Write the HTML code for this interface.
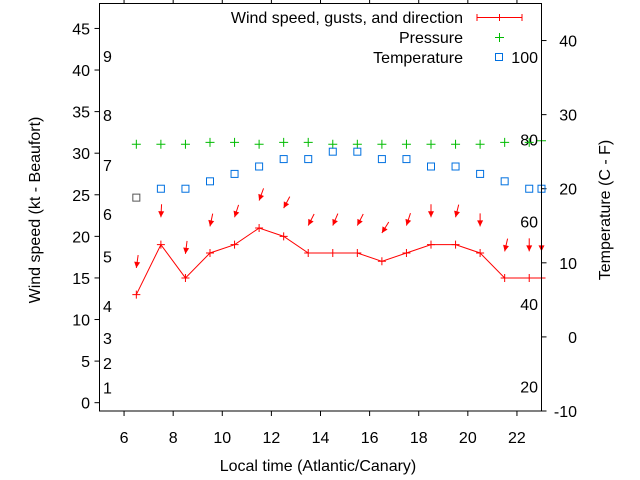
<!DOCTYPE html>
<html><head><meta charset="utf-8"><style>
html,body{margin:0;padding:0;background:#fff;}
svg{display:block;font-family:"Liberation Sans",Arial,sans-serif;font-size:16px;}
</style></head><body>
<svg id="chart" width="640" height="480" viewBox="0 0 640 480" xmlns="http://www.w3.org/2000/svg">
<rect x="0" y="0" width="640" height="480" fill="#fff"/>
<g id="axes"></g>
<g id="marks"></g>
<rect x="99.5" y="3.5" width="442" height="407.5" fill="none" stroke="#000" stroke-width="1"/>
<text x="40" y="210" transform="rotate(-90 40 210)" text-anchor="middle">Wind speed (kt - Beaufort)</text>
<text x="610" y="210" transform="rotate(-90 610 210)" text-anchor="middle">Temperature (C - F)</text>
<text x="318" y="471" text-anchor="middle">Local time (Atlantic/Canary)</text>
<g>
<text x="463" y="23" text-anchor="end">Wind speed, gusts, and direction</text>
<line x1="477" y1="17.5" x2="522" y2="17.5" stroke="#f00"/>
<line x1="477" y1="14" x2="477" y2="21" stroke="#f00"/>
<line x1="522" y1="14" x2="522" y2="21" stroke="#f00"/>
<line x1="499.5" y1="14" x2="499.5" y2="21" stroke="#f00"/>
<text x="463" y="43" text-anchor="end">Pressure</text>
<path d="M495,37.5 h9 M499.5,33 v9" stroke="#0b0"/>
<text x="463" y="63" text-anchor="end">Temperature</text>
<rect x="495.5" y="53.5" width="7" height="7" fill="none" stroke="#0070e0"/>
</g>
</svg>
<script>
const hours=[6.5,7.5,8.5,9.5,10.5,11.5,12.5,13.5,14.5,15.5,16.5,17.5,18.5,19.5,20.5,21.5,22.5,23];
const windKt=[13,19,15,18,19,21,20,18,18,18,17,18,19,19,18,15,15,15];
const gustKt=[16.2,22.3,17.9,21.2,22.3,24.3,23.4,21.3,21.3,21.3,20.4,21.3,22.3,22.3,21.2,18.2,18.2,18.2];
const dirDeg=[8,3,7,12,18,20,28,27,23,27,32,18,0,14,0,13,0,0];
const tempC=[18.8,20,20,21,22,23,24,24,25,25,24,24,23,23,22,21,20,20];
const pressure=[31.07,31.07,31.07,31.3,31.3,31.07,31.3,31.3,31.07,31.07,31.07,31.07,31.07,31.07,31.07,31.3,31.3,31.5];
const xTicks=[6,8,10,12,14,16,18,20,22];
const yTicks=[0,5,10,15,20,25,30,35,40,45];
const y2Ticks=[-10,0,10,20,30,40];
const beaufortLabels=["1","2","3","4","5","6","7","8","9"];
const beaufortKt=[1.8,4.8,7.8,11.6,17.6,22.7,28.6,34.6,41.7];
const fahrenheitTicks=[20,40,60,80,100];

const L=99.5,R=541.5,T=3.5,B=411;
const X=h=>L+(h-5)/(23-5)*(R-L);
const Y=v=>B-(v+1)/(48+1)*(B-T);
const Y2=c=>B-(c+10)/(45+10)*(B-T);
const NS='http://www.w3.org/2000/svg';
function mk(tag,attrs,parent){const e=document.createElementNS(NS,tag);for(const k in attrs)e.setAttribute(k,attrs[k]);parent.appendChild(e);return e;}
const ax=document.getElementById('axes'),mg=document.getElementById('marks');

xTicks.forEach(t=>{const x=X(t);
 let a=mk('line',{x1:x,y1:B,x2:x,y2:B+5,stroke:'#000'},ax);
 
 
 let b=mk('line',{x1:x,y1:T,x2:x,y2:T-5,stroke:'#000'},ax);
 
 
 let tx=mk('text',{x:x,y:443,'text-anchor':'middle'},ax);tx.textContent=t;
 
 
});
yTicks.forEach(t=>{const y=Y(t);
 let a=mk('line',{x1:L,y1:y,x2:L-5,y2:y,stroke:'#000'},ax);
 
 
 let tx=mk('text',{x:90,y:y+6,'text-anchor':'end'},ax);tx.textContent=t;
 
 
});
y2Ticks.forEach(t=>{const y=Y2(t);
 let a=mk('line',{x1:R,y1:y,x2:R+5,y2:y,stroke:'#000'},ax);
 
 
 let tx=mk('text',{x:577,y:y+6,'text-anchor':'end'},ax);tx.textContent=t;
 
 
});
beaufortLabels.forEach((s,i)=>{
 let tx=mk('text',{x:103,y:Y(beaufortKt[i])+6},ax);tx.textContent=s;
 
 
});
fahrenheitTicks.forEach(f=>{const c=(f-32)*5/9;
 let tx=mk('text',{x:538,y:Y2(c)+6,'text-anchor':'end'},ax);tx.textContent=f;
 
 
});

hours.forEach((h,i)=>{const x=X(h),y=Y(pressure[i]);
 let p=mk('path',{d:`M${x-4.5},${y} h9 M${x},${y-4.5} v9`,stroke:'#0b0',fill:'none'},mg);
 
 
});
hours.forEach((h,i)=>{const x=X(h),y=Y2(tempC[i]);
 let r=mk('rect',{x:x-3.5,y:y-3.5,width:7,height:7,fill:'none',stroke:(i===0?'#555':'#0070e0')},mg);
 
 
});
let pts=hours.map((h,i)=>X(h)+','+Y(windKt[i])).join(' ');
let pl=mk('polyline',{points:pts,fill:'none',stroke:'#f00'},mg);


hours.forEach((h,i)=>{const x=X(h),y=Y(windKt[i]);
 let p=mk('path',{d:`M${x-4},${y} h8 M${x},${y-4} v8`,stroke:'#f00'},mg);
 
 
});
hours.forEach((h,i)=>{const x=X(h),y=Y(gustKt[i]);const a=dirDeg[i]*Math.PI/180;const len=13;
 const tx=x+len*Math.sin(a),ty=y-len*Math.cos(a);
 const ux=Math.sin(a),uy=-Math.cos(a);const px=-uy,py=ux;
 const hb=6,hw=3;
 const bx=x+ux*hb,by=y+uy*hb;
 let g=mk('g',{},mg);
 
 
 mk('line',{x1:tx,y1:ty,x2:x,y2:y,stroke:'#f00'},g);
 mk('polygon',{points:`${x},${y} ${bx+px*hw},${by+py*hw} ${bx-px*hw},${by-py*hw}`,fill:'#f00'},g);
});
</script>
</body></html>
